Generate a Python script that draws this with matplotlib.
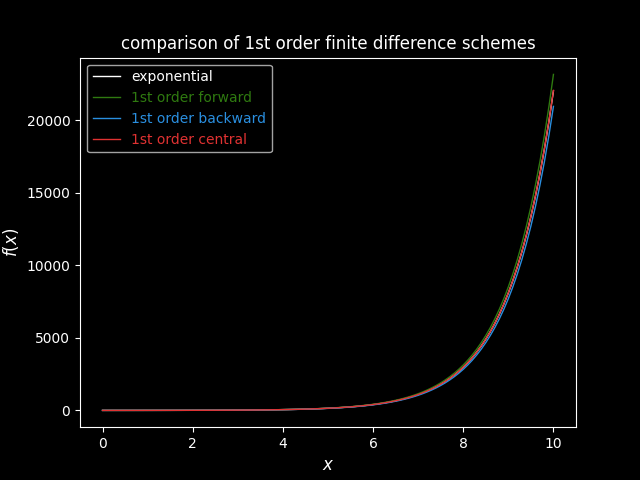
import numpy as np
import matplotlib
matplotlib.use("Agg")
import matplotlib.pyplot as plt

# grid and step used for the finite differences
x_start, x_end, n_pts = 0.0, 10.0, 101
h = 0.1

x = np.linspace(x_start, x_end, n_pts)
f_exact = np.exp(x)
f_forward = (np.exp(x + h) - np.exp(x)) / h
f_backward = (np.exp(x) - np.exp(x - h)) / h
f_central = (np.exp(x + h) - np.exp(x - h)) / (2 * h)

labels = ["exponential", "1st order forward", "1st order backward", "1st order central"]
colors = ["white", "#2f7a10", "#2a8fe0", "#e03232"]

plt.style.use("dark_background")
fig, ax = plt.subplots(figsize=(6.4, 4.8), dpi=100)

for y, lab, c in zip([f_exact, f_forward, f_backward, f_central], labels, colors):
    ax.plot(x, y, color=c, lw=1, label=lab)

leg = ax.legend(loc="upper left")
for txt, c in zip(leg.get_texts(), colors):
    txt.set_color(c)

ax.set_title("comparison of 1st order finite difference schemes")
ax.set_xlabel("$x$", fontsize=12)
ax.set_ylabel("$f(x)$", fontsize=12)

fig.savefig("out.png")
